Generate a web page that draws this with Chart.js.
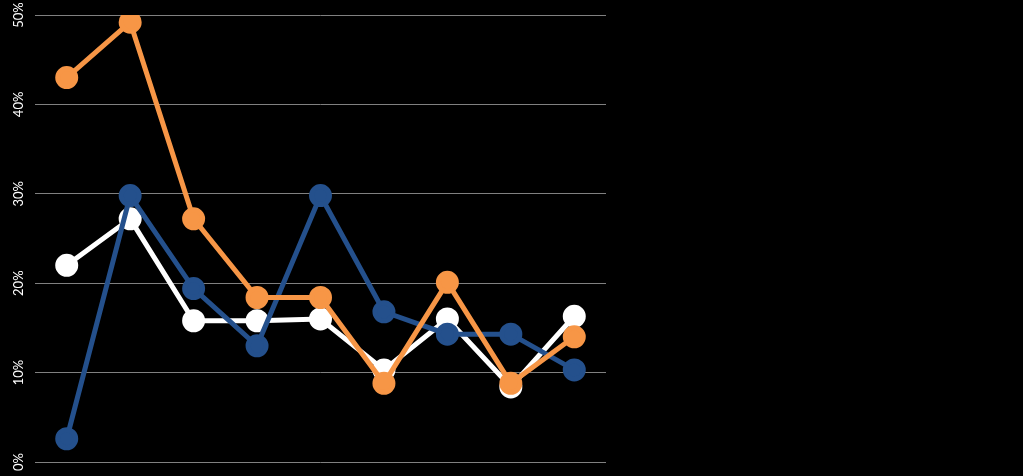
<!DOCTYPE html>
<html>
<head>
<meta charset="utf-8">
<script src="https://cdn.jsdelivr.net/npm/chart.js@4/dist/chart.umd.min.js"></script>
<style>
  html, body { margin: 0; padding: 0; background: #000; }
  #wrap { width: 1023px; height: 476px; }
</style>
</head>
<body>
<div id="wrap"><canvas id="grafico"></canvas></div>
<script>
// dados
const categorias = ["1", "2", "3", "4", "5", "6", "7", "8", "9"];
const serieBranca = [22.0, 27.2, 15.8, 15.8, 16.0, 10.3, 16.0, 8.4, 16.3];
const serieLaranja = [43.0, 49.2, 27.2, 18.4, 18.4, 8.8, 20.1, 8.8, 14.0];
const serieAzul = [2.6, 29.8, 19.4, 13.0, 29.8, 16.8, 14.3, 14.3, 10.3];
const ticksY = [0, 10, 20, 30, 40, 50];

function serie(label, data, cor, ordem) {
  return {
    label: label,
    data: data,
    borderColor: cor,
    backgroundColor: cor,
    pointBackgroundColor: cor,
    pointBorderColor: cor,
    borderWidth: 5,
    pointRadius: 9,
    pointHoverRadius: 9,
    tension: 0,
    order: ordem,
  };
}

const ctx = document.getElementById("grafico").getContext("2d");
const grafico = new Chart(ctx, {
  type: "line",
  data: {
    labels: categorias,
    datasets: [
      serie("Branca", serieBranca, "#FFFFFF", 3),
      serie("Laranja", serieLaranja, "#F79646", 1),
      serie("Azul", serieAzul, "#24508C", 2),
    ],
  },
  options: {
    responsive: true,
    maintainAspectRatio: false,
    animation: false,
    layout: {
      padding: { left: 0, right: 417, top: 15, bottom: 11 },
    },
    plugins: {
      legend: { display: false },
      tooltip: { enabled: false },
    },
    scales: {
      x: {
        display: false,
        offset: true,
      },
      y: {
        min: 0,
        max: 50,
        afterBuildTicks: (scale) => {
          scale.ticks = ticksY.map((v) => ({ value: v }));
        },
        afterFit: (scale) => {
          scale.width = 35;
          scale.paddingTop = 0;
          scale.paddingBottom = 0;
        },
        border: { display: false },
        grid: {
          color: "#808080",
          lineWidth: 1,
          drawTicks: false,
        },
        ticks: {
          color: "#FFFFFF",
          minRotation: 90,
          maxRotation: 90,
          crossAlign: "center",
          padding: 3,
          font: { family: "Lato", size: 13 },
          callback: (v) => v + "%",
        },
      },
    },
  },
});
</script>
</body>
</html>
